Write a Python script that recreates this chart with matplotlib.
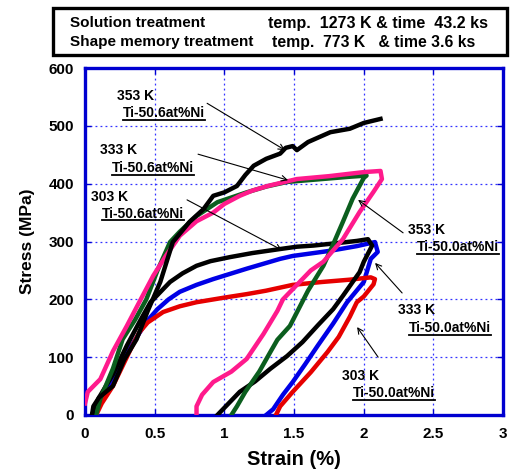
import matplotlib
matplotlib.use('Agg')
import matplotlib.pyplot as plt
from matplotlib.patches import Rectangle
from matplotlib.lines import Line2D

plt.rcParams['font.family'] = ['Liberation Sans', 'DejaVu Sans']
plt.rcParams['font.weight'] = 'bold'

# ---- data (strain %, stress MPa) ----
# 303 K Ti-50.6at%Ni (pink)
strain_303_506 = [0.0, 0.02, 0.11, 0.2, 0.3, 0.4, 0.49, 0.58, 0.68, 0.8, 0.92, 1.0, 1.11, 1.2, 1.31,
                  1.52, 1.75, 2.0, 2.12, 2.13, 2.07, 1.97, 1.85, 1.71, 1.62, 1.54, 1.42, 1.38, 1.28,
                  1.16, 1.05, 0.92, 0.84, 0.8, 0.8]
stress_303_506 = [20, 40, 62, 110, 154, 200, 241, 275, 310, 335, 350, 365, 379, 388, 396,
                  408, 413, 420, 422, 408, 386, 351, 304, 265, 250, 230, 200, 180, 140,
                  97, 75, 57, 35, 15, 0]
# 333 K Ti-50.6at%Ni (green)
strain_333_506 = [0.08, 0.11, 0.2, 0.27, 0.36, 0.44, 0.52, 0.61, 0.68, 0.8, 0.95, 1.16, 1.3, 1.45,
                  1.7, 1.9, 2.02, 2.0, 1.92, 1.85, 1.78, 1.71, 1.6, 1.47, 1.38, 1.33, 1.25, 1.15,
                  1.09, 1.05]
stress_333_506 = [0, 28, 80, 131, 165, 200, 250, 299, 317, 344, 368, 385, 395, 403,
                  408, 412, 414, 410, 374, 334, 295, 258, 215, 154, 130, 109, 75, 40,
                  15, 0]
# 353 K Ti-50.6at%Ni (black, loading only)
strain_353_506 = [0.05, 0.06, 0.1, 0.2, 0.28, 0.37, 0.45, 0.54, 0.63, 0.75, 0.85, 0.92, 1.0, 1.09,
                  1.15, 1.21, 1.3, 1.4, 1.44, 1.49, 1.52, 1.6, 1.76, 1.9, 2.0, 2.12]
stress_353_506 = [0, 15, 30, 50, 95, 131, 180, 230, 299, 334, 356, 379, 385, 396,
                  415, 431, 443, 452, 462, 465, 458, 472, 489, 495, 505, 512]
# 303 K Ti-50.0at%Ni (red)
strain_303_500 = [0.08, 0.12, 0.2, 0.27, 0.33, 0.39, 0.45, 0.56, 0.68, 0.8, 1.0, 1.16, 1.3, 1.49,
                  1.7, 1.9, 2.05, 2.08, 2.07, 2.0, 1.95, 1.9, 1.82, 1.74, 1.62, 1.49, 1.4, 1.37]
stress_303_500 = [0, 20, 50, 85, 115, 143, 160, 178, 188, 195, 203, 209, 215, 225,
                  230, 234, 238, 235, 226, 205, 195, 170, 135, 109, 74, 40, 15, 0]
# 333 K Ti-50.0at%Ni (blue)
strain_333_500 = [0.05, 0.1, 0.18, 0.27, 0.36, 0.44, 0.52, 0.6, 0.68, 0.8, 0.92, 1.16, 1.4, 1.49,
                  1.76, 1.95, 2.08, 2.1, 2.05, 2.0, 1.88, 1.78, 1.67, 1.58, 1.49, 1.42, 1.35, 1.3]
stress_333_500 = [0, 25, 55, 97, 130, 161, 183, 200, 213, 225, 235, 253, 270, 275,
                  284, 292, 299, 282, 270, 230, 195, 158, 120, 88, 57, 35, 10, 0]
# 353 K Ti-50.0at%Ni (black)
strain_353_500 = [0.05, 0.1, 0.2, 0.3, 0.4, 0.47, 0.55, 0.61, 0.7, 0.8, 0.9, 1.04, 1.2, 1.4, 1.52,
                  1.64, 1.8, 1.95, 2.03, 2.06, 2.0, 1.97, 1.92, 1.85, 1.78, 1.67, 1.56, 1.45,
                  1.33, 1.22, 1.11, 0.99, 0.95]
stress_353_500 = [0, 30, 70, 120, 165, 195, 215, 230, 245, 258, 266, 273, 280, 287, 291,
                  293, 297, 301, 304, 293, 265, 247, 230, 206, 183, 155, 126, 102,
                  80, 58, 40, 10, 0]

x_ticks = [0, 0.5, 1, 1.5, 2, 2.5, 3]
y_ticks = [0, 100, 200, 300, 400, 500, 600]

# label text, label pos, arrow start, arrow end
labels = [
    ('353 K', 'Ti-50.6at%Ni', (0.23, 552), (0.273, 522), (0.876, 539), (1.435, 458)),
    ('333 K', 'Ti-50.6at%Ni', (0.108, 458), (0.194, 427), (0.811, 451), (1.457, 406)),
    ('303 K', 'Ti-50.6at%Ni', (0.043, 377), (0.122, 348), (0.732, 372), (1.414, 285)),
    ('353 K', 'Ti-50.0at%Ni', (2.318, 320), (2.383, 290), (2.282, 315), (1.959, 372)),
    ('333 K', 'Ti-50.0at%Ni', (2.246, 181), (2.325, 150), (2.275, 211), (2.081, 263)),
    ('303 K', 'Ti-50.0at%Ni', (1.845, 67), (1.923, 38), (2.103, 100), (1.952, 152)),
]

fig = plt.figure(figsize=(5.28, 4.74), dpi=100)
ax = fig.add_axes([0.161, 0.1245, 0.792, 0.732])

lw = 3.2
ax.plot(strain_333_500, stress_333_500, color='#0000e6', lw=lw, zorder=3)
ax.plot(strain_303_500, stress_303_500, color='#e60000', lw=lw, zorder=3)
ax.plot(strain_353_500, stress_353_500, color='black', lw=lw, zorder=3)
ax.plot(strain_333_506, stress_333_506, color='#0b5e1e', lw=lw, zorder=3)
ax.plot(strain_303_506, stress_303_506, color='#ff1a8c', lw=lw, zorder=3)
ax.plot(strain_353_506, stress_353_506, color='black', lw=lw, zorder=3)

ax.set_xlim(0, 3)
ax.set_ylim(0, 600)
ax.set_xticks(x_ticks)
ax.set_xticklabels(['0', '0.5', '1', '1.5', '2', '2.5', '3'])
ax.set_yticks(y_ticks)
ax.grid(True, color='#3333ff', linestyle=(0, (1.5, 2.5)), lw=0.9)
for s in ax.spines.values():
    s.set_color('#0000d0')
    s.set_linewidth(2.4)
    s.set_zorder(2.5)
ax.tick_params(direction='in', color='#0000d0', length=4, width=1,
               top=True, right=True, labelsize=11)
ax.tick_params(axis='x', pad=9)
ax.tick_params(axis='y', pad=8)
for t in ax.get_xticklabels() + ax.get_yticklabels():
    t.set_fontweight('bold')
ax.set_xlabel('Strain (%)', fontsize=14.5, fontweight='bold', labelpad=6)
ax.set_ylabel('Stress (MPa)', fontsize=12.5, fontweight='bold', labelpad=10)

under = []
for temp, alloy, tpos, apos, a0, a1 in labels:
    ax.text(tpos[0], tpos[1], temp, fontsize=10, fontweight='bold', va='center', ha='left', zorder=5)
    t = ax.text(apos[0], apos[1], alloy, fontsize=10, fontweight='bold', va='center', ha='left', zorder=5)
    under.append(t)
    ax.annotate('', xy=a1, xytext=a0,
                arrowprops=dict(arrowstyle='->', color='black', lw=0.8, shrinkA=0, shrinkB=0),
                zorder=5)

# header box
fig.patches.append(Rectangle((0.100, 0.884), 0.860, 0.099, transform=fig.transFigure,
                             fill=False, edgecolor='black', linewidth=2.4))
fig.text(0.133, 0.951, 'Solution treatment', fontsize=11, fontweight='bold', va='center')
fig.text(0.508, 0.951, 'temp.  1273 K & time  43.2 ks', fontsize=11.5, fontweight='bold', va='center')
fig.text(0.133, 0.911, 'Shape memory treatment', fontsize=11, fontweight='bold', va='center')
fig.text(0.515, 0.911, 'temp.  773 K   & time 3.6 ks', fontsize=11.3, fontweight='bold', va='center')

# underline the alloy names
fig.canvas.draw()
inv = fig.transFigure.inverted()
for t in under:
    bb = t.get_window_extent()
    (x0, y0), (x1, _) = inv.transform([(bb.x0, bb.y0), (bb.x1, bb.y1)])
    fig.lines.append(Line2D([x0, x1], [y0 + 0.001, y0 + 0.001], transform=fig.transFigure,
                            color='black', lw=1.3))

fig.savefig('out.png', dpi=100)
